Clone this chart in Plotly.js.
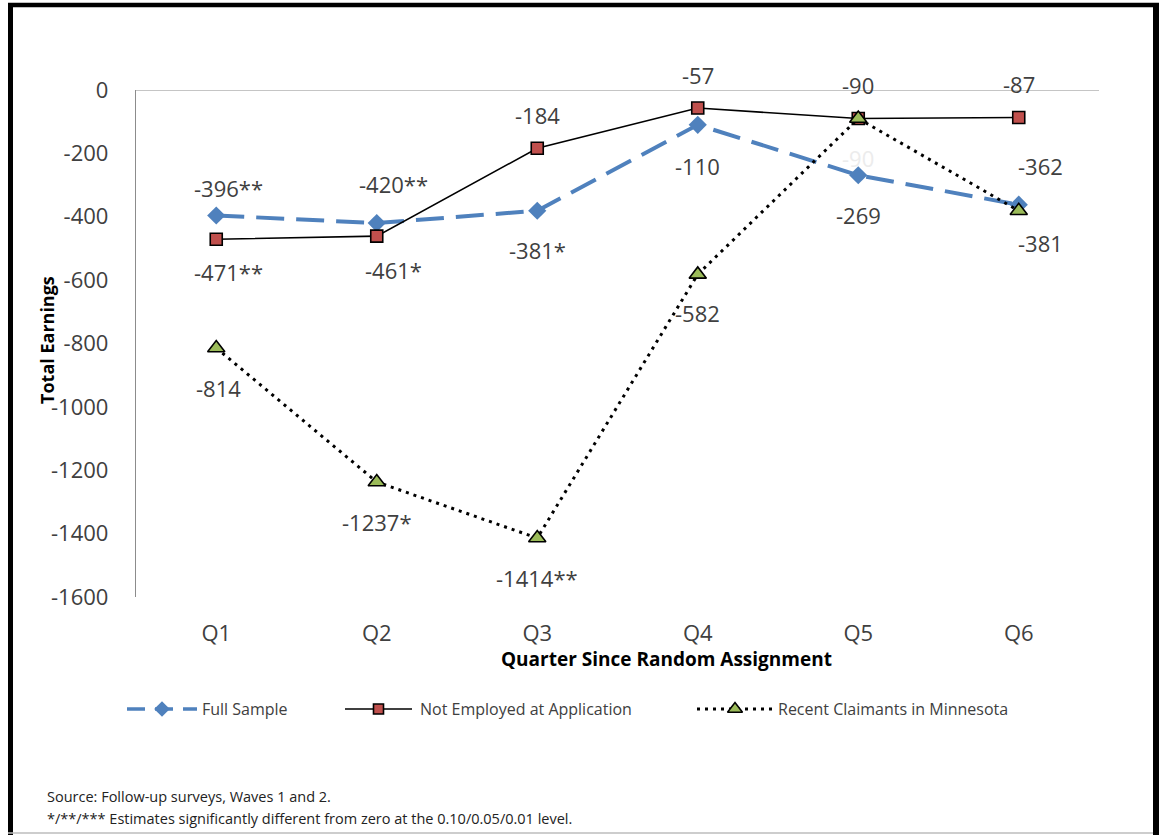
<!DOCTYPE html>
<html>
<head>
<meta charset="utf-8">
<script src="https://cdn.plot.ly/plotly-3.0.1.min.js"></script>
<style>
  html, body { margin: 0; padding: 0; background: #ffffff; }
  #chart { width: 1159px; height: 835px; }
</style>
</head>
<body>
<div id="chart"></div>
<script>
// Quarters since random assignment
const quarters = ['Q1', 'Q2', 'Q3', 'Q4', 'Q5', 'Q6'];

// Impact on total earnings, by group
const fullSample     = [-396, -420, -381, -110, -269, -362];
const notEmployed    = [-471, -461, -184, -57, -90, -87];
const recentClaimants = [-814, -1237, -1414, -582, -90, -381];

// Significance stars attached to each estimate
const fullStars     = ['**', '**', '*', '', '', ''];
const notEmpStars   = ['**', '*', '', '', '', ''];
const claimantStars = ['', '*', '**', '', '', ''];

const seriesNames = ['Full Sample', 'Not Employed at Application', 'Recent Claimants in Minnesota'];

// Y axis ticks
const yTickVals   = [0, -200, -400, -600, -800, -1000, -1200, -1400, -1600];
const yTickLabels = ['0', '-200', '-400', '-600', '-800', '-1000', '-1200', '-1400', '-1600'];

const footnotes = [
  'Source: Follow-up surveys, Waves 1 and 2.',
  '*/**/*** Estimates significantly different from zero at the 0.10/0.05/0.01 level.'
];

// ---- layout geometry (pixels) ----
const W = 1159, H = 835;
const M = { l: 20, r: 6, t: 90, b: 5 };
const PW = W - M.l - M.r, PH = H - M.t - M.b;
const px = x => (x - M.l) / PW;
const py = y => (H - M.b - y) / PH;

const FONT = 'Open Sans, Noto Sans, sans-serif';
const TXT = '#404040';
const BLUE = '#4F81BD', RED = '#C0504D', GREEN = '#9BBB59';

// label placement: pixel offsets from the marker (down = positive)
const fullDy   = [-27, -39, 39, 41, 40, -39];
const fullDx   = [12, 17, 0, 0, 0, 22];
const notEmpDy = [33, 34, -33, -33, -34, -34];
const notEmpDx = [12, 17, 0, 0, 0, 0];
const claimDy  = [40, 40, 40, 39, 39, 32];
const claimDx  = [2, 0, 0, 0, 0, 22];

const traces = [
  {
    name: seriesNames[0], x: quarters, y: fullSample, type: 'scatter', mode: 'lines+markers',
    line: { color: BLUE, width: 4, dash: '28px,12px' },
    marker: { symbol: 'diamond', size: 14, color: BLUE, line: { width: 0 } },
    hoverinfo: 'x+y'
  },
  {
    name: seriesNames[1], x: quarters, y: notEmployed, type: 'scatter', mode: 'lines+markers',
    line: { color: '#000000', width: 1.6 },
    marker: { symbol: 'square', size: 12, color: RED, line: { color: '#000000', width: 1.6 } },
    hoverinfo: 'x+y'
  },
  {
    name: seriesNames[2], x: quarters, y: recentClaimants, type: 'scatter', mode: 'lines+markers',
    line: { color: '#000000', width: 3, dash: '3px,5px' },
    marker: { symbol: 'triangle-up', size: 15, color: GREEN, line: { color: '#000000', width: 1.6 } },
    hoverinfo: 'x+y'
  }
];

// Legend glyphs drawn on a small helper axis pair below the plot
const legendGlyphs = [
  { x0: 127, x1: 197, line: traces[0].line, marker: traces[0].marker, textX: 200 },
  { x0: 345, x1: 412, line: traces[1].line, marker: traces[1].marker, textX: 418 },
  { x0: 697, x1: 773, line: traces[2].line, marker: traces[2].marker, textX: 776 }
];
legendGlyphs.forEach(g => {
  traces.push({
    x: [g.x0, g.x1], y: [0, 0], xaxis: 'x2', yaxis: 'y2', type: 'scatter', mode: 'lines',
    line: Object.assign({}, g.line, g.line.dash === '28px,12px' ? { dash: '18px,10px', width: 3.5 } : {}),
    hoverinfo: 'skip', showlegend: false
  });
  traces.push({
    x: [(g.x0 + g.x1) / 2], y: [0], xaxis: 'x2', yaxis: 'y2', type: 'scatter', mode: 'markers',
    marker: Object.assign({}, g.marker, { size: g.marker.size - 2 }),
    hoverinfo: 'skip', showlegend: false, cliponaxis: false
  });
});

const annotations = [];
function addLabels(values, stars, dy, dx, colors) {
  values.forEach((v, i) => {
    annotations.push({
      x: quarters[i], y: v, xref: 'x', yref: 'y',
      text: String(v) + stars[i], showarrow: false,
      xshift: dx[i], yshift: -dy[i],
      font: { family: FONT, size: 22, color: colors ? colors[i] : TXT }
    });
  });
}
addLabels(fullSample, fullStars, fullDy, fullDx);
addLabels(notEmployed, notEmpStars, notEmpDy, notEmpDx);
// the Q5 claimant label sits faded behind the other Q5 labels
addLabels(recentClaimants, claimantStars, claimDy, claimDx, [TXT, TXT, TXT, TXT, '#ececec', TXT]);

// legend labels
legendGlyphs.forEach((g, i) => {
  annotations.push({
    x: px(g.textX), y: py(709), xref: 'paper', yref: 'paper', xanchor: 'left', yanchor: 'middle',
    text: seriesNames[i], showarrow: false, font: { family: FONT, size: 16, color: TXT }
  });
});

// axis titles
annotations.push({
  x: px(666), y: py(659), xref: 'paper', yref: 'paper', xanchor: 'center', yanchor: 'middle',
  text: '<b>Quarter Since Random Assignment</b>', showarrow: false,
  font: { family: FONT, size: 19, color: '#000000' }
});
annotations.push({
  x: px(47), y: py(340), xref: 'paper', yref: 'paper', xanchor: 'center', yanchor: 'middle',
  text: '<b>Total Earnings</b>', textangle: -90, showarrow: false,
  font: { family: FONT, size: 18, color: '#000000' }
});

// footnotes
footnotes.forEach((t, i) => {
  annotations.push({
    x: px(45), y: py(796 + i * 22), xref: 'paper', yref: 'paper', xanchor: 'left', yanchor: 'middle',
    text: t, showarrow: false, font: { family: FONT, size: 14.5, color: '#222222' }
  });
});

const shapes = [
  // horizontal category axis line at zero
  { type: 'line', xref: 'x domain', yref: 'y', x0: 0, x1: 1, y0: 0, y1: 0,
    line: { color: '#8c8c8c', width: 1.2 }, layer: 'below' },
  // chart frame
  { type: 'line', xref: 'paper', yref: 'paper', x0: px(10.5), x1: px(10.5), y0: py(3), y1: py(835),
    line: { color: '#000000', width: 5 } },
  { type: 'line', xref: 'paper', yref: 'paper', x0: px(8), x1: px(1159), y0: py(5), y1: py(5),
    line: { color: '#000000', width: 4.5 } },
  { type: 'line', xref: 'paper', yref: 'paper', x0: px(1156), x1: px(1156), y0: py(3), y1: py(835),
    line: { color: '#000000', width: 6 } },
  { type: 'line', xref: 'paper', yref: 'paper', x0: px(8), x1: px(1153), y0: py(833), y1: py(833),
    line: { color: '#bdbdbd', width: 1.5 } }
];

const layout = {
  width: W, height: H,
  margin: M,
  paper_bgcolor: '#ffffff', plot_bgcolor: 'rgba(0,0,0,0)',
  showlegend: false,
  font: { family: FONT, color: TXT },
  xaxis: {
    type: 'category', domain: [px(136), px(1099)], range: [-0.5, 5.5],
    showline: false, showgrid: false, zeroline: false, ticks: '',
    tickfont: { family: FONT, size: 22, color: TXT }, ticklabelstandoff: 21,
    fixedrange: true
  },
  yaxis: {
    domain: [py(597), 1], range: [-1600, 0],
    tickvals: yTickVals, ticktext: yTickLabels,
    showline: true, linecolor: '#8c8c8c', linewidth: 1.2,
    showgrid: false, zeroline: false, ticks: '',
    tickfont: { family: FONT, size: 22, color: TXT }, ticklabelstandoff: 22,
    fixedrange: true
  },
  xaxis2: { domain: [0, 1], range: [M.l, W - M.r], anchor: 'y2', visible: false, fixedrange: true },
  yaxis2: { domain: [py(719), py(699)], range: [-1, 1], anchor: 'x2', visible: false, fixedrange: true },
  annotations: annotations,
  shapes: shapes
};

Plotly.newPlot('chart', traces, layout, { displayModeBar: false, staticPlot: true });
</script>
</body>
</html>
